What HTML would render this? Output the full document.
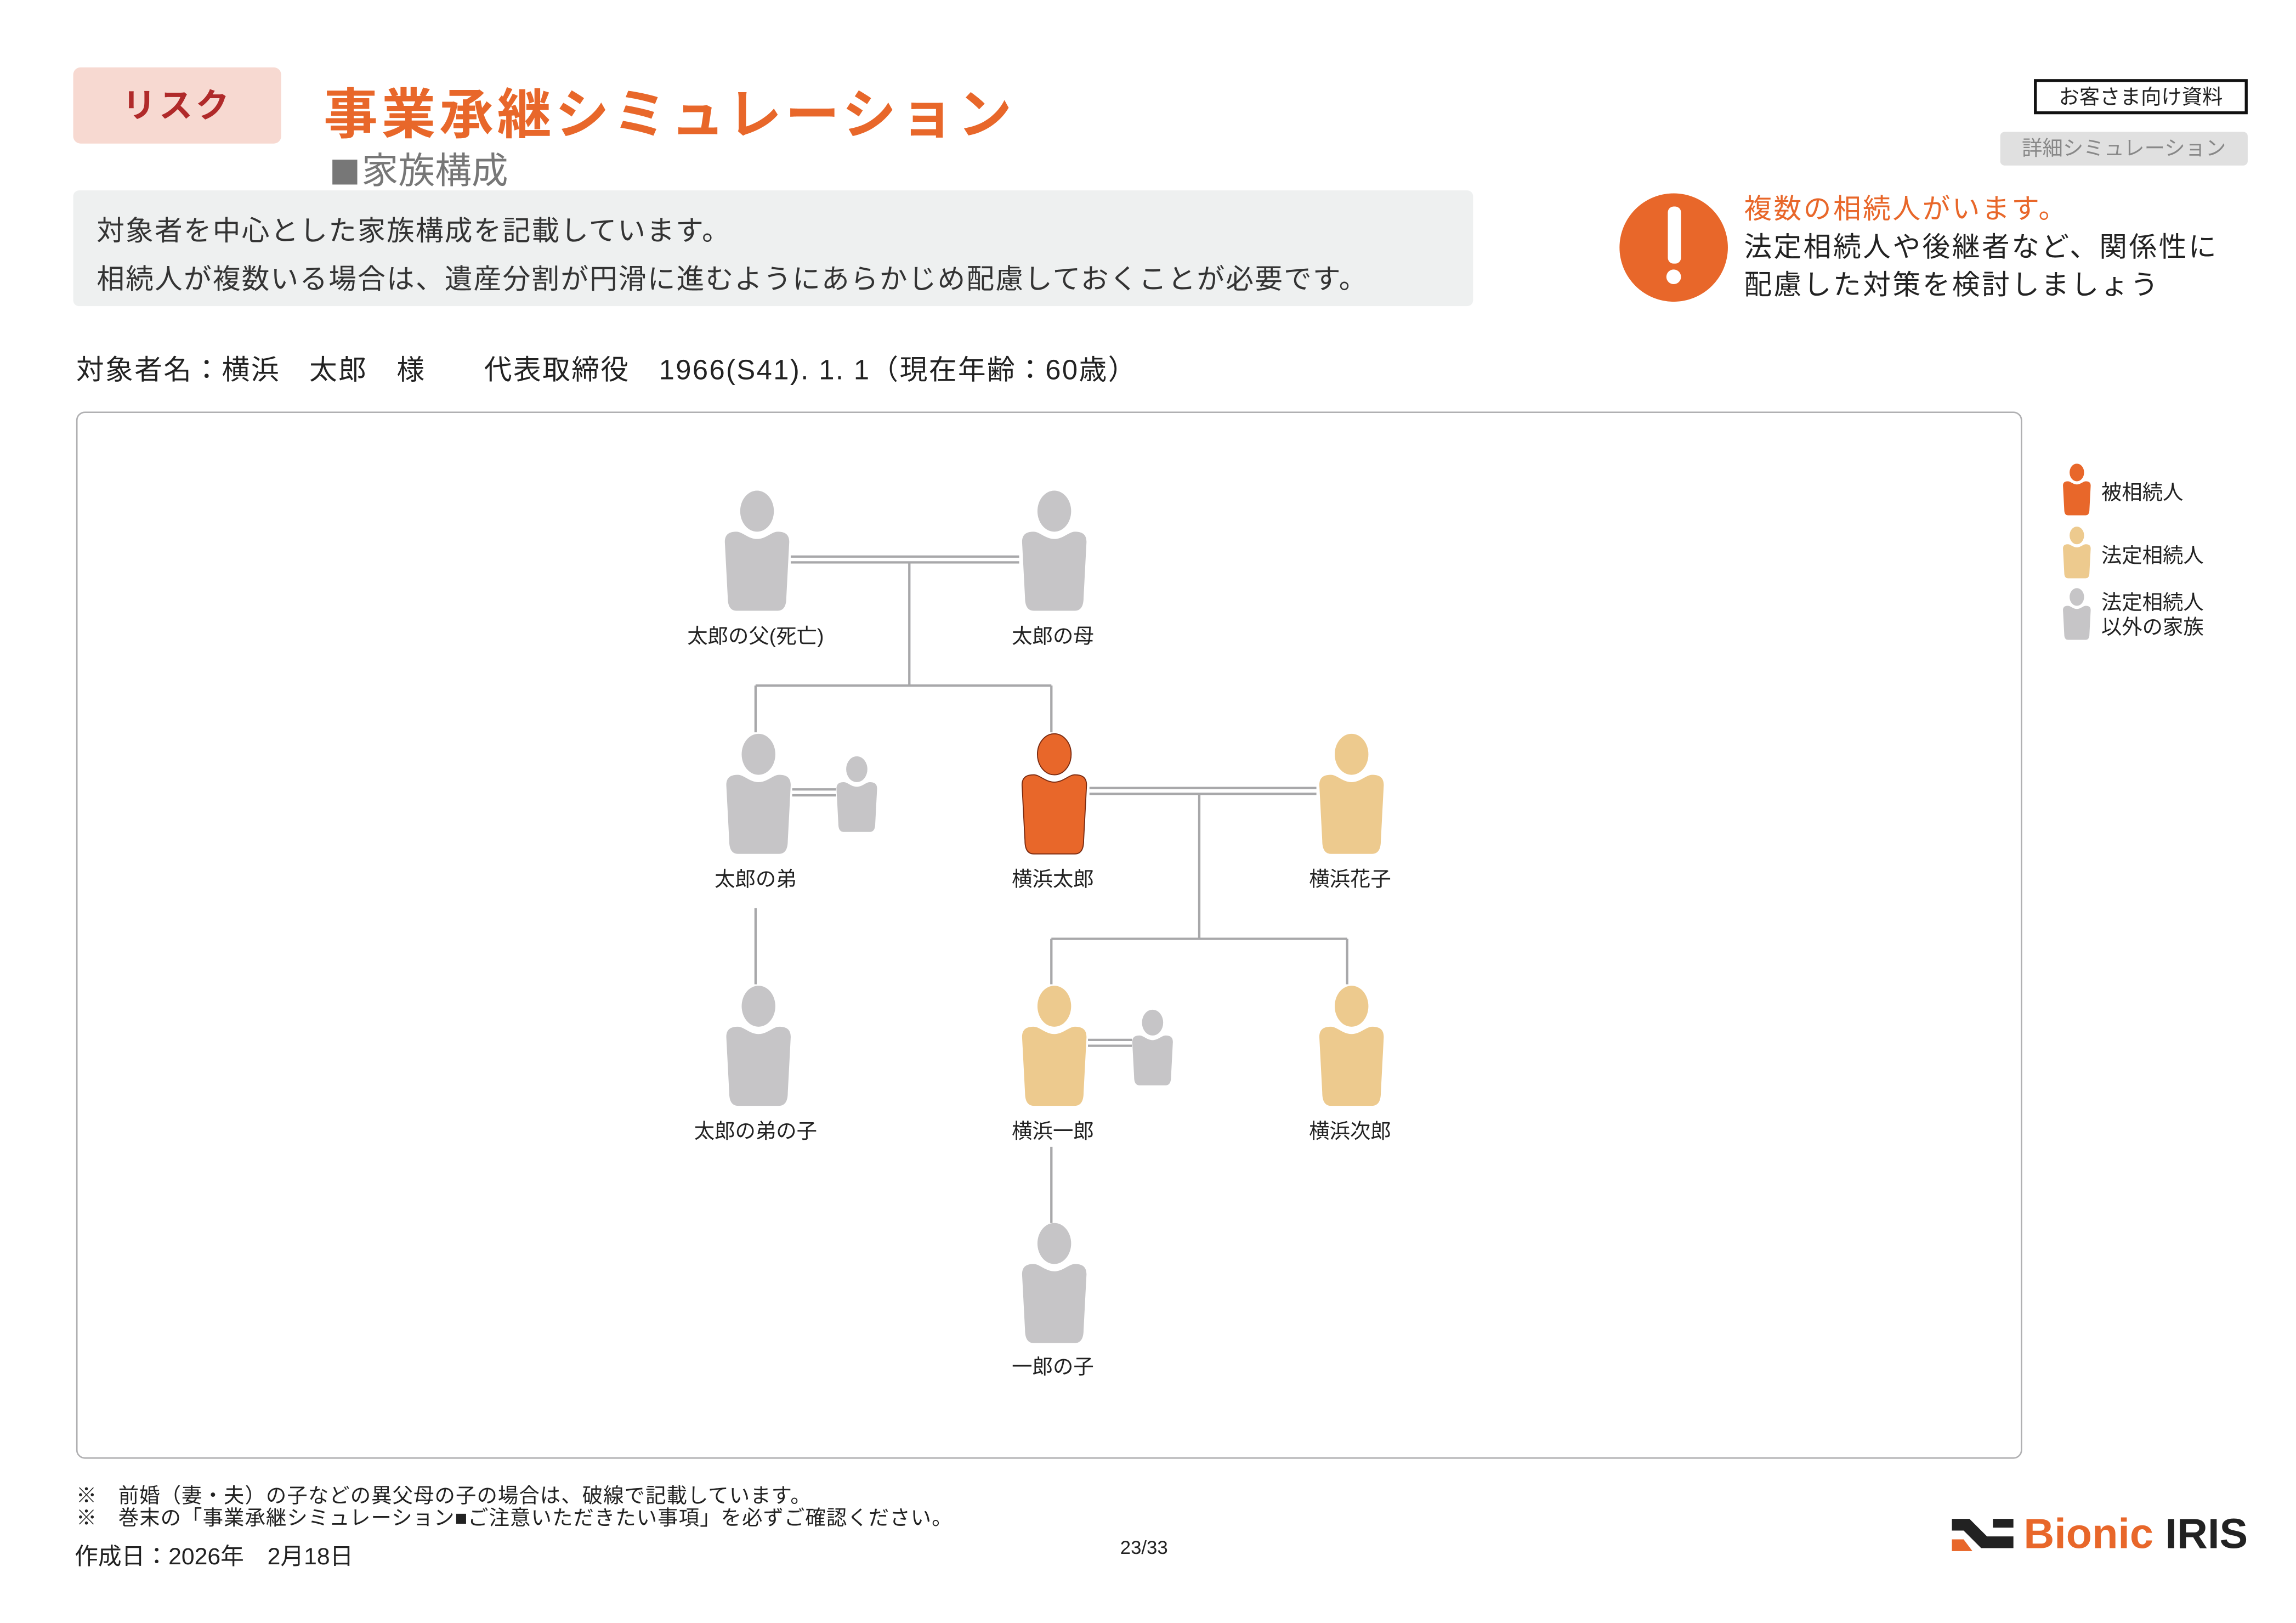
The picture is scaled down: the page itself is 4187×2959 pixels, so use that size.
<!DOCTYPE html>
<html><head><meta charset="utf-8">
<style>
html,body{margin:0;padding:0;background:#fff;}
body{width:4187px;height:2959px;overflow:hidden;}
#w{position:absolute;left:0;top:0;width:1568px;height:1108px;transform:scale(2.6703);transform-origin:0 0;font-family:"Liberation Sans","Noto Sans CJK JP",sans-serif;color:#222;}
.a{position:absolute;white-space:nowrap;}
.lb{position:absolute;font-size:14px;transform:translateX(-50%);white-space:nowrap;color:#222;}
</style></head><body>
<div id="w">
<div class="a" style="left:50px;top:46px;width:142px;height:52px;background:#f7d9d1;border-radius:5px;color:#b02a2a;font-size:23px;line-height:52px;text-align:center;font-weight:bold;letter-spacing:2px;">リスク</div>
<div class="a" style="left:221px;top:48px;font-size:37px;color:#e8672a;font-weight:bold;letter-spacing:2.5px;">事業承継シミュレーション</div>
<div class="a" style="left:227px;top:97px;font-size:25px;color:#777;"><span style="display:inline-block;width:17px;height:17px;background:#777;margin-right:3px;vertical-align:-1px;"></span>家族構成</div>
<div class="a" style="left:1389px;top:54px;width:142px;height:20px;border:2px solid #111;font-size:14px;line-height:20px;text-align:center;">お客さま向け資料</div>
<div class="a" style="left:1366px;top:90px;width:169px;height:23px;background:#e0e0e0;border-radius:3px;font-size:14px;line-height:23px;text-align:center;color:#888;">詳細シミュレーション</div>
<div class="a" style="left:50px;top:130px;width:956px;height:79px;background:#eef0f0;border-radius:4px;"></div>
<div class="a" style="left:66px;top:142px;font-size:19px;color:#333;line-height:33px;letter-spacing:0.8px;">対象者を中心とした家族構成を記載しています。<br>相続人が複数いる場合は、遺産分割が円滑に進むようにあらかじめ配慮しておくことが必要です。</div>
<div class="a" style="left:1106px;top:132px;width:74px;height:74px;border-radius:50%;background:#e8672a;"></div>
<div class="a" style="left:1139px;top:141px;width:9px;height:39px;background:#fff;border-radius:4px;"></div>
<div class="a" style="left:1138px;top:184px;width:10px;height:10px;background:#fff;border-radius:50%;"></div>
<div class="a" style="left:1191px;top:131px;font-size:19px;line-height:26px;color:#222;letter-spacing:1.3px;"><span style="color:#e8672a">複数の相続人がいます。</span><br>法定相続人や後継者など、関係性に<br>配慮した対策を検討しましょう</div>
<div class="a" style="left:52px;top:238px;font-size:19px;letter-spacing:0.9px;">対象者名：横浜　太郎　様　　代表取締役　1966(S41). 1. 1（現在年齢：60歳）</div>
<div class="a" style="left:52px;top:281px;width:1327px;height:713px;border:1.5px solid #b0b0b2;border-radius:6px;"></div>
<svg class="a" style="left:0;top:0" width="1568" height="1108" viewBox="0 0 1568 1108">
<defs>
<g id="p"><ellipse cx="24" cy="13" rx="11.5" ry="14"/><path d="M2,34 C2,28 6,27 10,27 C14,27 18,32 24,32 C30,32 34,27 38,27 C42,27 46,28 46,34 L44,72 C44,78 42,81 38,81 L10,81 C6,81 4,78 4,72 Z"/></g>
</defs>
<g stroke="#a8a8aa" stroke-width="1.6" fill="none">
<path d="M540,380H696M540,384H696M621,384V468M516,468H718M516,468V500M718,468V500"/>
<path d="M744,538H899M744,542H899M819,542V641M718,641H920M718,641V672M920,641V672"/>
<path d="M541,539H571M541,543H571M516,620V672"/>
<path d="M743,710H773M743,714H773M718,783V835"/>
</g>
<g fill="#c6c5c7">
<use href="#p" x="493" y="336"/><use href="#p" x="696" y="336"/>
<use href="#p" x="494" y="502"/>
<use href="#p" transform="translate(570,517) scale(0.63)"/>
<use href="#p" x="494" y="674"/>
<use href="#p" transform="translate(772,690) scale(0.63)"/>
<use href="#p" x="696" y="836"/>
</g>
<use href="#p" x="696" y="502" fill="#e8672a" stroke="#7a2a10" stroke-width="0.7"/>
<g fill="#edca8e"><use href="#p" x="899" y="502"/><use href="#p" x="696" y="674"/><use href="#p" x="899" y="674"/></g>
<use href="#p" transform="translate(1408,317) scale(0.43)" fill="#e8672a"/>
<use href="#p" transform="translate(1408,360) scale(0.43)" fill="#edca8e"/>
<use href="#p" transform="translate(1408,402) scale(0.43)" fill="#c6c5c7"/>
<g transform="translate(1333,1037)">
<path d="M0,0H12L24,12H42V20H20L8,8H0Z" fill="#222"/>
<path d="M28,0H42V6H28Z" fill="#222"/>
<path d="M0,14H8L14,22H0Z" fill="#e8672a"/>
</g>
</svg>
<div class="lb" style="left:516px;top:424px;">太郎の父(死亡)</div>
<div class="lb" style="left:719px;top:424px;">太郎の母</div>
<div class="lb" style="left:516px;top:590px;">太郎の弟</div>
<div class="lb" style="left:719px;top:590px;">横浜太郎</div>
<div class="lb" style="left:922px;top:590px;">横浜花子</div>
<div class="lb" style="left:516px;top:762px;">太郎の弟の子</div>
<div class="lb" style="left:719px;top:762px;">横浜一郎</div>
<div class="lb" style="left:922px;top:762px;">横浜次郎</div>
<div class="lb" style="left:719px;top:923px;">一郎の子</div>
<div class="a" style="left:1435px;top:326px;font-size:14px;">被相続人</div>
<div class="a" style="left:1435px;top:369px;font-size:14px;">法定相続人</div>
<div class="a" style="left:1435px;top:403px;font-size:14px;line-height:17px;">法定相続人<br>以外の家族</div>
<div class="a" style="left:52px;top:1014px;font-size:14px;line-height:15px;letter-spacing:0.4px;">※　前婚（妻・夫）の子などの異父母の子の場合は、破線で記載しています。<br>※　巻末の「事業承継シミュレーション■ご注意いただきたい事項」を必ずご確認ください。</div>
<div class="a" style="left:51px;top:1049px;font-size:16px;">作成日：2026年　2月18日</div>
<div class="a" style="left:765px;top:1049px;font-size:13px;">23/33</div>
<div class="a" style="left:1382px;top:1030px;font-size:29px;font-weight:bold;line-height:36px;"><span style="color:#e8672a">Bionic</span> <span style="color:#222">IRIS</span></div>
</div>
</body></html>
